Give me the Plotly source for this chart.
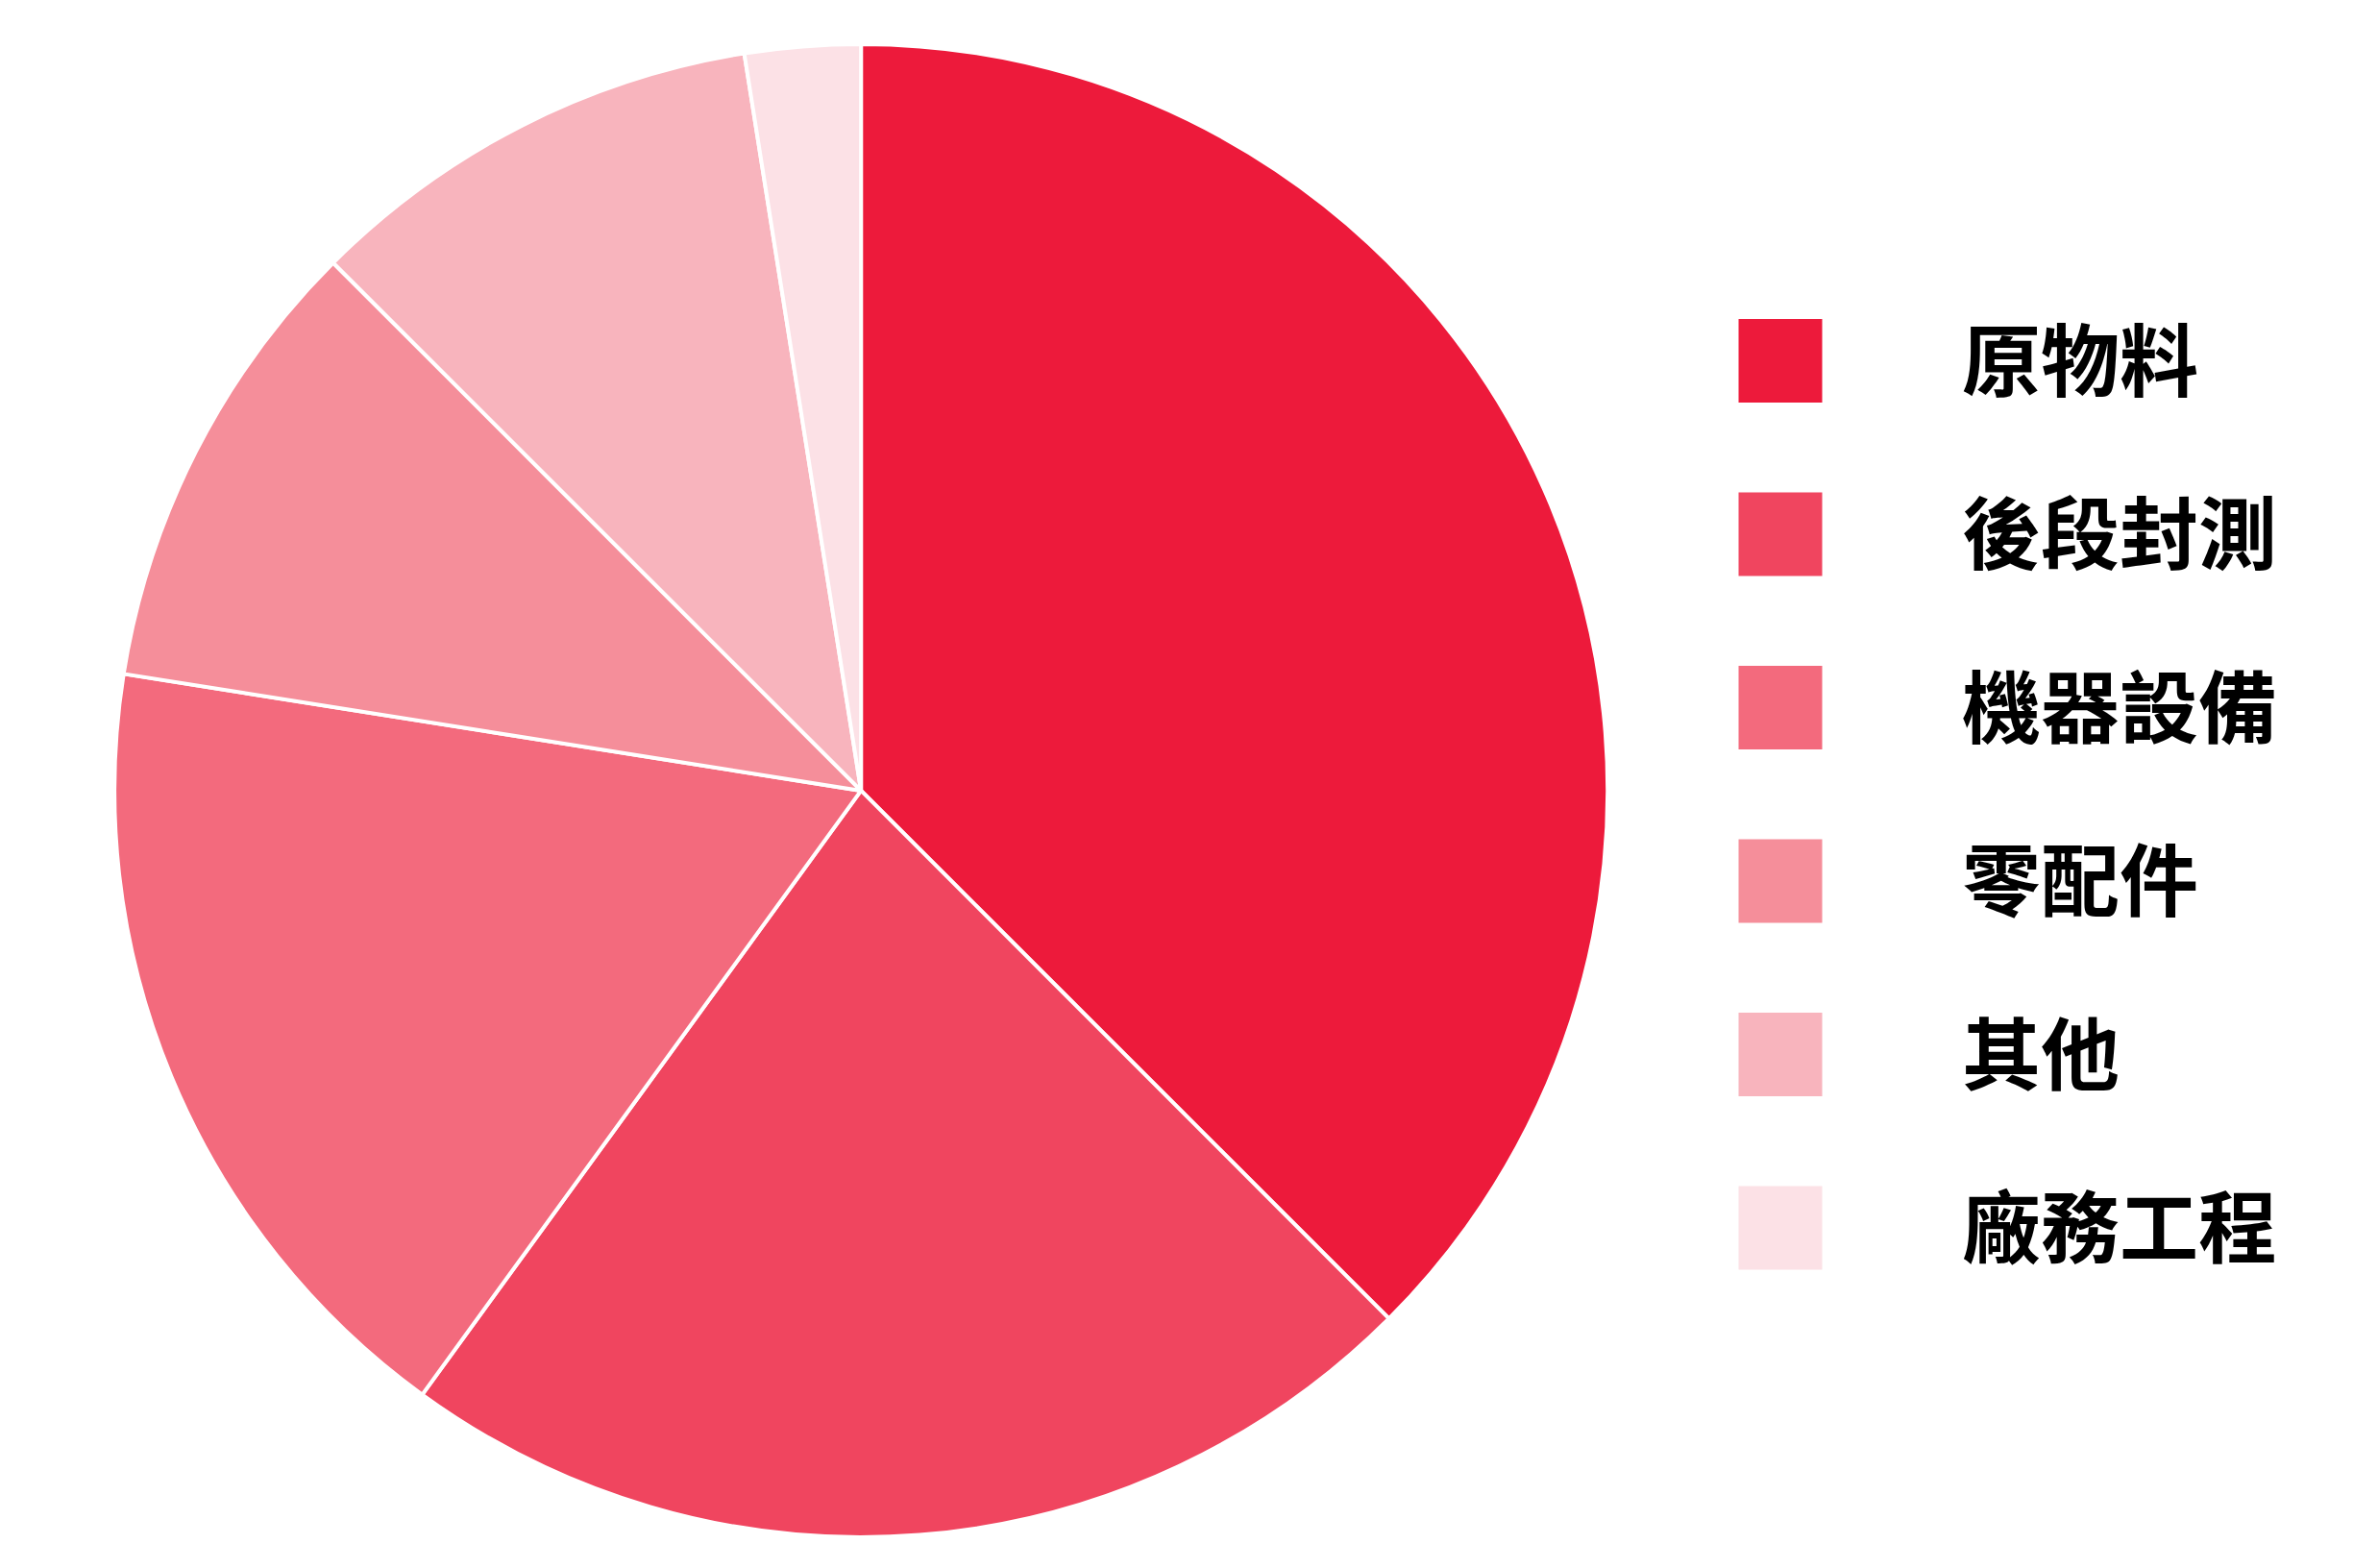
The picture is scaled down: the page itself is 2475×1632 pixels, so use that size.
import plotly.graph_objects as go

# data
categories = ['原物料', '後段封測', '機器設備', '零配件', '其他', '廠務工程']
shares = [37.5, 22.5, 17.5, 10.0, 10.0, 2.5]
colors = ['#ED1A3B', '#F0455F', '#F36A7D', '#F58E9A', '#F8B4BD', '#FCE1E6']

W, H = 2475, 1632
legend_rows = list(range(len(categories)))

fig = go.Figure()

# Pie
fig.add_trace(go.Pie(
    labels=categories,
    values=shares,
    sort=False,
    direction='clockwise',
    rotation=0,
    marker=dict(colors=colors, line=dict(color='white', width=4)),
    textinfo='none',
    hoverinfo='label+percent',
    domain=dict(x=[0.0449, 0.6728], y=[0.0245, 0.9768]),
    showlegend=False,
))

# Legend drawn as a scatter so the swatches can be large
fig.add_trace(go.Scatter(
    x=[1845] * len(categories),
    y=legend_rows,
    mode='markers',
    marker=dict(symbol='square', size=87, color=colors, line=dict(width=0)),
    hoverinfo='skip',
    showlegend=False,
))
fig.add_trace(go.Scatter(
    x=[2034] * len(categories),
    y=legend_rows,
    yaxis='y2',
    mode='text',
    text=categories,
    textposition='middle right',
    textfont=dict(family='Noto Sans CJK TC', size=82, color='#000000', weight='bold'),
    hoverinfo='skip',
    showlegend=False,
))

fig.update_layout(
    width=W,
    height=H,
    margin=dict(l=0, r=0, t=0, b=0),
    paper_bgcolor='white',
    plot_bgcolor='white',
    xaxis=dict(range=[0, W], visible=False, fixedrange=True),
    yaxis=dict(range=[7.006, -2.036], visible=False, fixedrange=True),
    yaxis2=dict(range=[6.951, -2.091], visible=False, fixedrange=True,
                overlaying='y'),
)

fig.write_html("out.html")
